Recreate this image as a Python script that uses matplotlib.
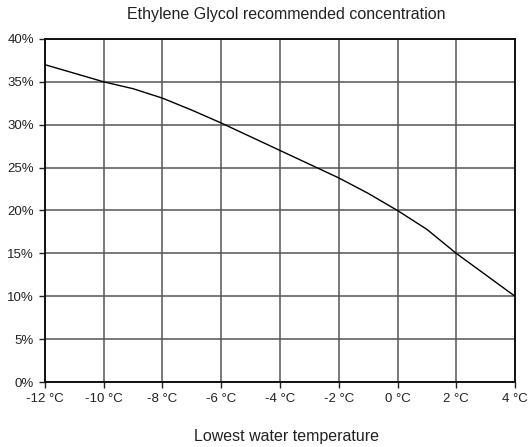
import matplotlib
matplotlib.use("Agg")
import matplotlib.pyplot as plt

plt.rcParams['font.family'] = ['Liberation Sans', 'DejaVu Sans']
plt.rcParams['axes.unicode_minus'] = False

# data
temps = [-12, -10, -9, -8, -7, -6, -5, -4, -3, -2, -1, 0, 1, 2, 3, 4]
conc = [37.0, 35.0, 34.2, 33.1, 31.7, 30.2, 28.6, 27.0, 25.4, 23.8, 22.0, 20.0, 17.8, 15.0, 12.5, 10.0]

x_ticks = [-12, -10, -8, -6, -4, -2, 0, 2, 4]
x_labels = ['%d °C' % t for t in x_ticks]
y_ticks = [0, 5, 10, 15, 20, 25, 30, 35, 40]
y_labels = ['%d%%' % v for v in y_ticks]

fig = plt.figure(figsize=(5.30, 4.47), dpi=100)
ax = fig.add_axes([0.0849, 0.1454, 0.9717 - 0.0849, 0.9128 - 0.1454])

ax.plot(temps, conc, color='black', linewidth=1.0, zorder=3)

ax.set_xlim(-12, 4)
ax.set_ylim(0, 40)
ax.set_xticks(x_ticks)
ax.set_xticklabels(x_labels)
ax.set_yticks(y_ticks)
ax.set_yticklabels(y_labels)
ax.tick_params(direction='out', length=4, width=1, labelsize=9.5, colors='#222222', pad=4)

ax.grid(True, color='#555555', linewidth=1.1)
ax.set_axisbelow(True)
for s in ax.spines.values():
    s.set_color('#111111')
    s.set_linewidth(1.4)

fig.text(0.541, 1 - 15 / 447, 'Ethylene Glycol recommended concentration',
         ha='center', va='center', fontsize=11.5, color='#222222')
fig.text(0.541, 1 - 436 / 447, 'Lowest water temperature',
         ha='center', va='center', fontsize=11.5, color='#222222')

fig.savefig('out.png', dpi=100, facecolor='white')
